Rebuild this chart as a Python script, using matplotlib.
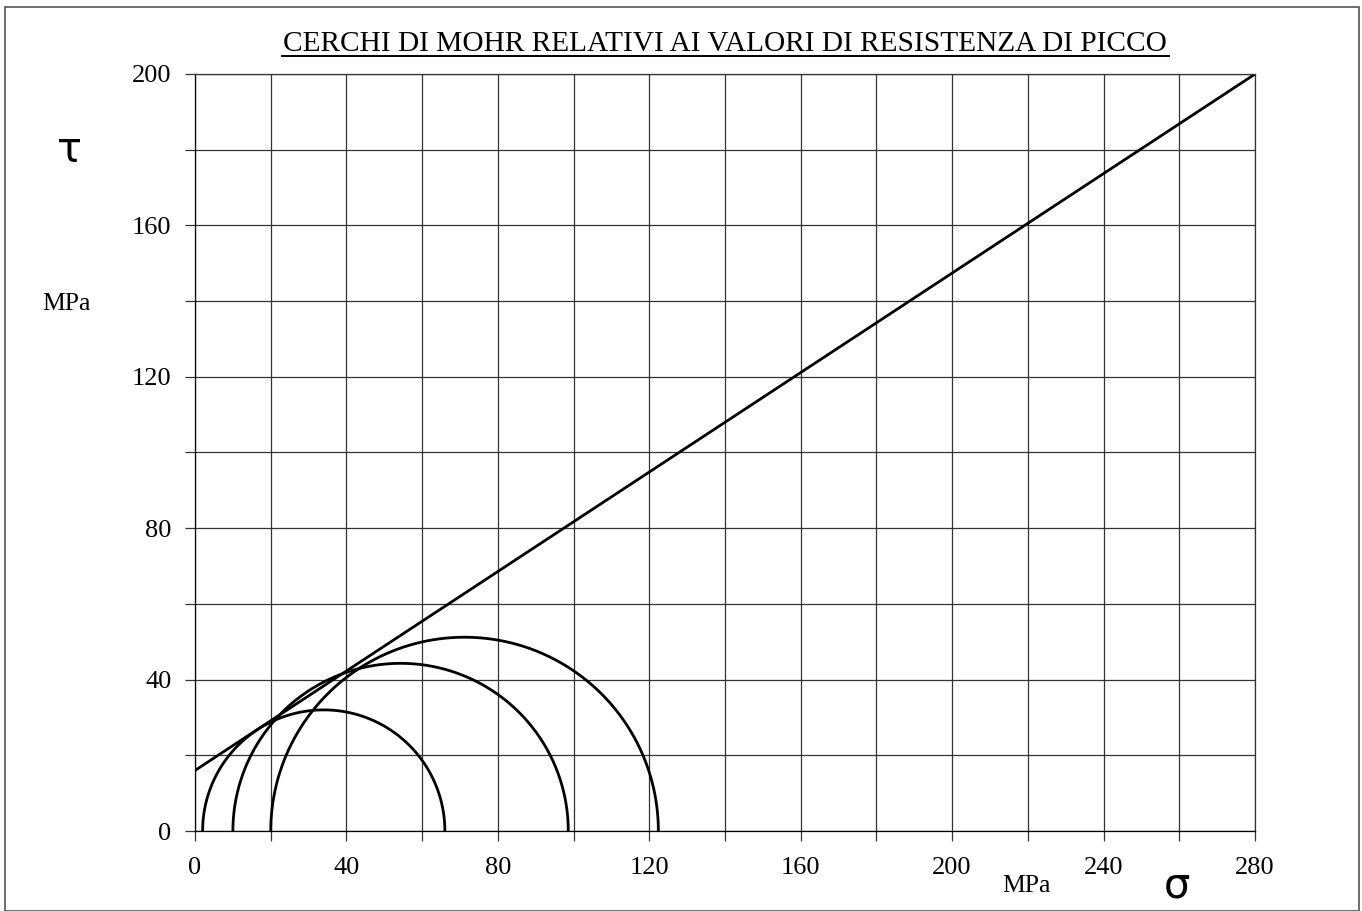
import numpy as np
import matplotlib.pyplot as plt
from matplotlib.patches import Rectangle

# Mohr circles at peak strength: (sigma3, sigma1) in MPa
sigma3 = [2.0, 10.0, 20.0]
sigma1 = [66.0, 98.6, 122.4]

# Failure envelope tau = c + sigma * tan(phi)
cohesion = 16.0
slope = 0.657
env_sigma = [0.0, 280.0]

x_ticks = [0, 40, 80, 120, 160, 200, 240, 280]
y_ticks = [0, 40, 80, 120, 160, 200]

serif = ['Liberation Serif', 'DejaVu Serif']

fig = plt.figure(figsize=(13.62, 9.11), dpi=100)
ax = fig.add_axes([0.1432, 0.0878, 0.7782, 0.831])

# grid every 20 MPa
ax.set_xticks(np.arange(0, 281, 20), minor=True)
ax.set_yticks(np.arange(0, 201, 20), minor=True)
ax.set_xticks(x_ticks)
ax.set_yticks(y_ticks)
ax.grid(True, which='both', color='#333333', linewidth=0.9)
ax.set_axisbelow(True)
ax.tick_params(which='both', direction='out', length=7, width=0.9, color='#333333')
ax.set_xticklabels([str(v) for v in x_ticks], fontfamily=serif, fontsize=19)
ax.set_yticklabels([str(v) for v in y_ticks], fontfamily=serif, fontsize=19)
ax.tick_params(axis='x', pad=12)
ax.tick_params(axis='y', pad=10)
for sp in ax.spines.values():
    sp.set_color('#333333')
    sp.set_linewidth(0.9)
ax.spines['left'].set_color('black')
ax.spines['bottom'].set_color('black')

# half circles
theta = np.linspace(0, np.pi, 400)
for s3, s1 in zip(sigma3, sigma1):
    c = (s1 + s3) / 2
    r = (s1 - s3) / 2
    ax.plot(c + r * np.cos(theta), r * np.sin(theta), color='black', lw=2.0)

env = np.array(env_sigma)
ax.plot(env, cohesion + slope * env, color='black', lw=2.0)

ax.set_xlim(0, 280)
ax.set_ylim(0, 200)

# labels
fig.text(0.532, 1 - 51 / 911, 'CERCHI DI MOHR RELATIVI AI VALORI DI RESISTENZA DI PICCO',
         ha='center', va='baseline', fontfamily=serif, fontsize=21.2)
title_underline_y = 1 - 55.5 / 911
fig.add_artist(plt.Line2D([0.207, 0.858], [title_underline_y, title_underline_y],
                          transform=fig.transFigure, color='black', lw=1.4))
fig.text(0.051, 0.835, 'τ', ha='center', va='center', fontfamily='DejaVu Sans', fontsize=30)
fig.text(0.049, 0.6597, 'MPa', ha='center', va='baseline', fontfamily=serif, fontsize=18.5)
fig.text(0.7538, 0.021, 'MPa', ha='center', va='baseline', fontfamily=serif, fontsize=18.5)
fig.text(0.864, 0.028, 'σ', ha='center', va='center', fontfamily='DejaVu Sans', fontsize=30)

# outer frame
fig.add_artist(Rectangle((0.004, 0.0), 0.994, 0.992, transform=fig.transFigure,
                         fill=False, edgecolor='#555555', lw=1.2))

fig.savefig('out.png', dpi=100)
